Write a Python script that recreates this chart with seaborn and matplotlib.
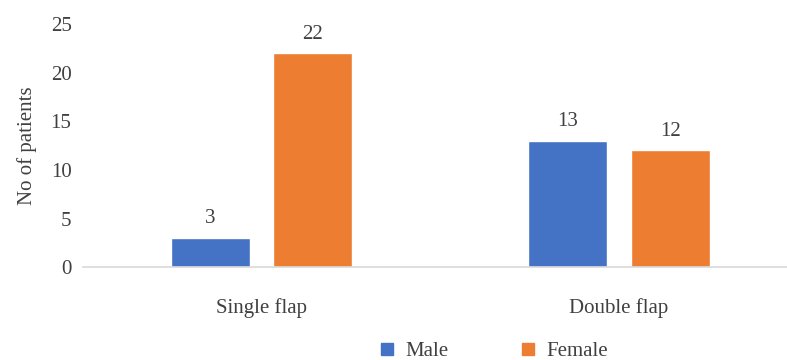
import matplotlib.pyplot as plt
import pandas as pd
import seaborn as sns
from matplotlib.lines import Line2D

categories = ["Single flap", "Double flap"]
male = [3, 13]
female = [22, 12]
series_names = ["Male", "Female"]
colors = ["#4472C4", "#ED7D31"]
y_ticks = [0, 5, 10, 15, 20, 25]

sns.set_theme(style="white")
plt.rcParams["font.family"] = ["Liberation Serif", "DejaVu Serif"]
TEXT = "#404040"
FS = 15

df = pd.DataFrame({
    "category": categories * 2,
    "sex": [series_names[0]] * len(categories) + [series_names[1]] * len(categories),
    "count": male + female,
})

fig = plt.figure(figsize=(7.87, 3.60), dpi=100)
ax = fig.add_axes([0.105, 0.258, 0.895, 0.675])

sns.barplot(data=df, x="category", y="count", hue="sex", order=categories,
            hue_order=series_names, palette=colors, width=0.574, gap=0.23,
            saturation=1, ax=ax, legend=False)

for cont in ax.containers:
    ax.bar_label(cont, fmt="%d", padding=7, fontsize=FS, color=TEXT)

ax.set_xlim(-0.5, 1.47)
ax.set_ylim(0, 25)
ax.set_yticks(y_ticks)
ax.set_yticklabels([str(t) for t in y_ticks], fontsize=FS, color=TEXT)
ax.tick_params(axis="y", length=0, pad=8)
ax.tick_params(axis="x", length=0, pad=22, labelsize=FS, labelcolor=TEXT)
ax.set_xlabel("")
ax.set_ylabel("No of patients", fontsize=FS, color=TEXT, labelpad=10)

for side in ["top", "right", "left"]:
    ax.spines[side].set_visible(False)
ax.spines["bottom"].set_color("#d9d9d9")
ax.spines["bottom"].set_linewidth(1.2)

handles = [Line2D([], [], marker="s", linestyle="", markersize=9,
                  markerfacecolor=c, markeredgecolor=c) for c in colors]
fig.legend(handles, series_names, loc="center", bbox_to_anchor=(0.627, 0.025),
           ncol=2, frameon=False, fontsize=FS, handlelength=0.8,
           handletextpad=0.5, columnspacing=3.4, labelcolor=TEXT)

fig.savefig("out.png", dpi=100)
